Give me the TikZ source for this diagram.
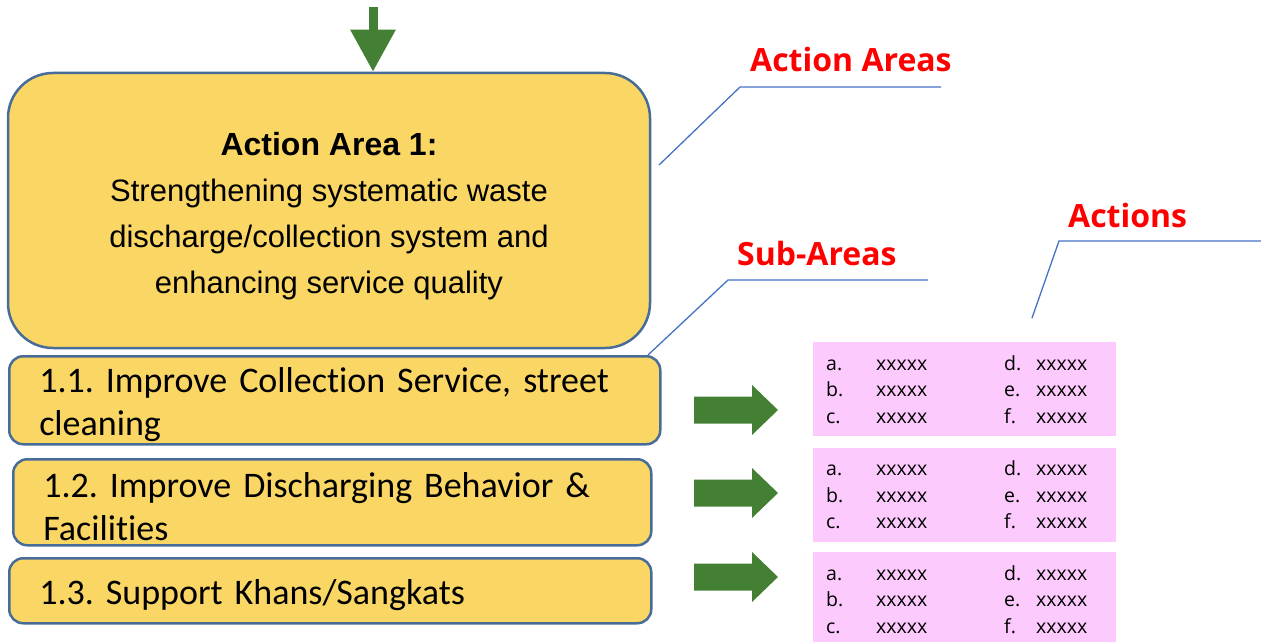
\documentclass[tikz,border=0pt]{standalone}
\usepackage{fontspec}
\usetikzlibrary{arrows.meta, positioning}
\setmainfont{Liberation Sans}
\newfontfamily\calibrifont[Ligatures=NoCommon]{Carlito}
\newfontfamily\segoefont{Open Sans}
\newcommand{\subfont}{\calibrifont\fontsize{36}{43}\selectfont\frenchspacing\spaceskip=12.5pt\relax}
\definecolor{areaYellow}{RGB}{250,214,100}
\definecolor{areaBorder}{RGB}{72,108,152}
\definecolor{arrowGreen}{RGB}{68,128,52}
\definecolor{actionPink}{RGB}{252,202,252}
\definecolor{leaderBlue}{RGB}{68,114,196}
\definecolor{labelRed}{RGB}{255,0,0}
\tikzstyle{box}= [draw=areaBorder, line width=2.5pt, fill=areaYellow]
\tikzstyle{AreaBox}= [box, rounded corners=45pt, minimum width=642pt, minimum height=275pt, align=center, font=\fontsize{31}{46}\selectfont]
\tikzstyle{SubBox}= [box, rounded corners=14pt, anchor=north west, align=left, inner xsep=30pt, inner ysep=0pt, font=\subfont, execute at begin node={\rule{0pt}{33pt}}]
\tikzstyle{ActBox}= [fill=actionPink, anchor=north west, minimum width=303pt, minimum height=94pt, inner xsep=13pt, inner ysep=0pt, font=\segoefont\fontsize{19.5}{26.5}\selectfont]
\tikzstyle{lbl}= [text=labelRed, anchor=base west, inner sep=0pt, font=\segoefont\bfseries\fontsize{32}{38}\selectfont]
\tikzstyle{leader}= [draw=leaderBlue, line width=1.3pt]
\tikzstyle{feedArrow}= [draw=arrowGreen, line width=9pt, -{Triangle[width=43pt, length=42pt]}]
\newcommand{\actlist}{\setlength{\tabcolsep}{0pt}\begin{tabular}{@{}p{50pt}p{128pt}p{32pt}p{67pt}@{}}
\rule{0pt}{23pt}a. & xxxxx & d. & xxxxx\\
b. & xxxxx & e. & xxxxx\\
c. & xxxxx & f. & xxxxx
\end{tabular}}
\newcommand{\blockarrow}[1]{\fill[arrowGreen, shift={(#1)}] (-42,-13.5) -- (16,-13.5) -- (16,-25) -- (42,0) -- (16,25) -- (16,13.5) -- (-42,13.5) -- cycle;}

\begin{document}
\begin{tikzpicture}[x=1pt, y=-1pt]
    \useasboundingbox (0,0) rectangle (1261,642);

    % action area
    \coordinate (feed) at (373,7);
    \node [AreaBox] (area) at (329,210.5) {{\bfseries\fontsize{32}{46}\selectfont\rule{0pt}{34pt}Action Area 1:}\\Strengthening systematic waste\\discharge/collection system and\\enhancing service quality};
    \draw [feedArrow] (feed) -- (feed |- area.north);

    % sub-areas
    \node [SubBox, text width=591pt, minimum height=88pt] (sub1) at (8,355) {1.1. Improve Collection Service, street\\cleaning};
    \node [SubBox, text width=578pt, minimum height=86pt] (sub2) at (12,458) {1.2. Improve Discharging Behavior \&\\Facilities};
    \node [SubBox, text width=582pt, minimum height=65pt] (sub3) at (8,557) {1.3. Support Khans/Sangkats};

    % actions
    \node [ActBox] (act1) at (813,342) {\actlist};
    \node [ActBox, below=11pt of act1] (act2) {\actlist};
    \node [ActBox, below=10pt of act2] (act3) {\actlist};

    % arrows from sub-areas to actions
    \foreach \y [count=\i] in {410,493,577} {
        \coordinate (push\i) at (736,\y);
        \blockarrow{push\i}
    }

    % labels
    \node [lbl] (lblAreas) at (750,72) {Action Areas};
    \coordinate (areasTip) at (659,165);
    \draw [leader] (areasTip) -- (740,87) -- (941,87);

    \node [lbl] (lblSub) at (737,265) {Sub-Areas};
    \coordinate (subTip) at (648,355);
    \draw [leader] (subTip) -- (728,280) -- (928,280);

    \node [lbl] (lblAct) at (1068,227) {Actions};
    \coordinate (actTip) at (1032,318);
    \draw [leader] (actTip) -- (1059,241) -- (1261,241);

\end{tikzpicture}
\end{document}
